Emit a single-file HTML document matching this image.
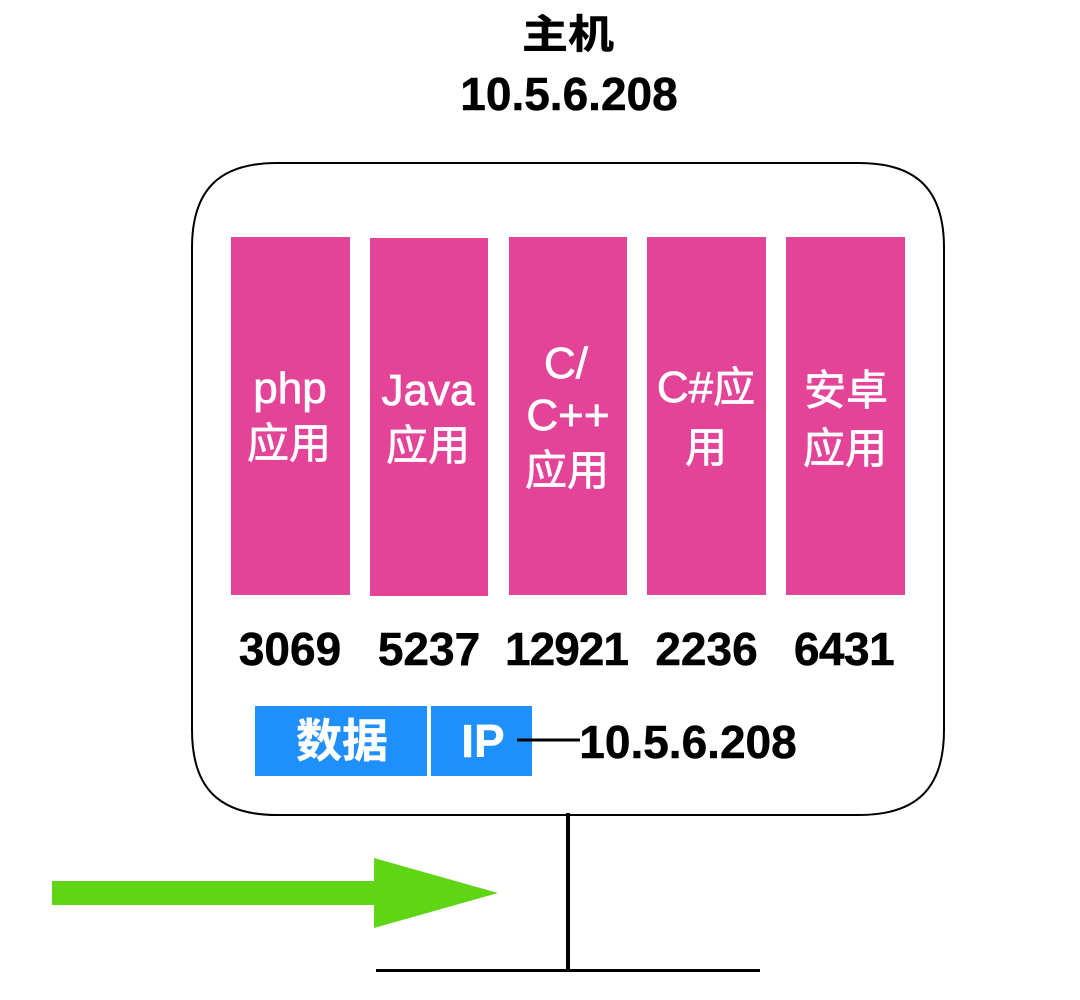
<!DOCTYPE html>
<html>
<head>
<meta charset="utf-8">
<style>
html,body{margin:0;padding:0;background:#fff;}
body{width:1080px;height:1000px;overflow:hidden;position:relative;font-family:"Liberation Sans","Noto Sans CJK SC",sans-serif;}
svg{position:absolute;left:0;top:0;}
text{font-family:"Liberation Sans","Noto Sans CJK SC",sans-serif;}
.b{font-weight:700;fill:#000;stroke:#000;stroke-width:.5px;font-size:46px;text-anchor:middle;}
.w{fill:#fff;stroke:#fff;stroke-width:.7px;font-size:44px;text-anchor:middle;}
.c{fill:#fff;stroke:#fff;stroke-width:.7px;font-size:42px;text-anchor:middle;}
.wb{fill:#fff;font-weight:700;stroke:#fff;stroke-width:.4px;font-size:46px;text-anchor:middle;}
</style>
</head>
<body>
<svg width="1080" height="1000" viewBox="0 0 1080 1000">
<text class="b" transform="translate(568,48) scale(1,0.87)" x="0" y="0">主机</text>
<text class="b" x="569" y="110">10.5.6.208</text>
<path d="M277,163 H859 C917,163 944,190 944,248 V730 C944,788 917,815 859,815 H277 C219,815 192,788 192,730 V248 C192,190 219,163 277,163 Z" fill="#fff" stroke="#000" stroke-width="2"/>
<rect x="231" y="237" width="119" height="358" fill="#e44498"/>
<rect x="370" y="238" width="118" height="358" fill="#e44498"/>
<rect x="509" y="237" width="118" height="358" fill="#e44498"/>
<rect x="647" y="237" width="119" height="358" fill="#e44498"/>
<rect x="786" y="237" width="119" height="358" fill="#e44498"/>
<text class="w" x="290" y="403">php</text>
<text class="c" x="289" y="458">应用</text>
<text class="w" x="428" y="405">Java</text>
<text class="c" x="428" y="460">应用</text>
<text class="w" x="566" y="378">C/</text>
<text class="w" x="568" y="430">C++</text>
<text class="c" x="567" y="485">应用</text>
<text class="w" x="706" y="402">C#<tspan font-size="42">应</tspan></text>
<text class="c" x="706" y="462">用</text>
<text class="c" x="846" y="405">安卓</text>
<text class="c" x="845" y="463">应用</text>
<text class="b" x="290" y="665">3069</text>
<text class="b" x="429" y="665">5237</text>
<text class="b" x="566.500" y="665" letter-spacing="-1">12921</text>
<text class="b" x="706.500" y="665">2236</text>
<text class="b" x="844" y="665" letter-spacing="-.5">6431</text>
<rect x="255" y="706" width="172" height="70" fill="#1e8ffb"/>
<rect x="431" y="706" width="101" height="70" fill="#1e8ffb"/>
<text class="wb" x="342" y="757">数据</text>
<text class="wb" x="483" y="757">IP</text>
<line x1="517" y1="740" x2="580" y2="740" stroke="#000" stroke-width="3"/>
<text class="b" x="688" y="758">10.5.6.208</text>
<line x1="568" y1="813" x2="568" y2="971" stroke="#000" stroke-width="4"/>
<line x1="376" y1="970.500" x2="760" y2="970.500" stroke="#000" stroke-width="3"/>
<rect x="52" y="881" width="324" height="24" fill="#5fd516"/>
<polygon points="374,858 498,893 374,928" fill="#5fd516"/>
</svg>
</body>
</html>
